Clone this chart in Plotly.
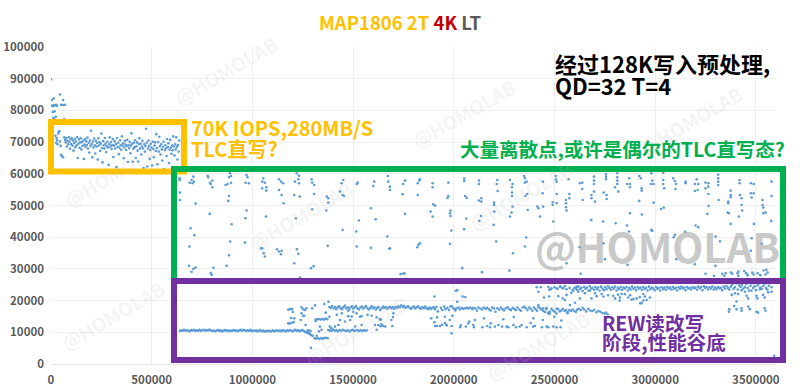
import plotly.graph_objects as go

# All point data: (x in thousands of IOs, IOPS)
start_burst = [(0,89800),(4,83300),(14,83800),(45,85000),(60,83300),(3,81500),(9,81300),(14,81700),(20,81600),(26,81800),(30,81400),
(50,81800),(56,81700),(63,81700),(70,81800),(9,79500),(18,79700),(24,78000),(12,77700),(16,77300),(65,77300)]

slc_band = [(22,72000),(26,69800),(28,71300),(31,70600),(33,69300),(36,72700),(39,73300),(42,73500),(45,70200),(48,68800),(50,66000),(53,65700),
(60,65200),(66,71500),(70,70700),(73,69900),(76,71200),(79,68600),(82,70400),(85,69300),(88,71600),(91,70100),(94,67900),(97,70900),
(100,69400),(103,71300),(106,68900),(109,70500),(112,67300),(115,69700),(118,71000),(121,68400),(124,70200),(127,69000),(130,71500),(133,65000),
(136,69500),(139,70800),(142,68200),(145,69900),(148,71200),(151,67700),(154,70000),(157,68800),(160,70500),(163,64700),(166,69200),(169,71000),
(172,68500),(175,70300),(178,69100),(181,71400),(184,68000),(187,69800),(190,66700),(193,70500),(196,68800),(199,73600),(202,69400),(205,65200),
(208,70200),(211,68300),(214,71100),(217,69000),(220,66400),(223,70400),(226,68600),(229,69700),(232,64500),(235,71200),(238,68900),(241,70000),
(244,67200),(247,69500),(250,72700),(253,68100),(256,63600),(259,70300),(262,69000),(265,68000),(268,71300),(271,69500),(274,66900),(277,68700),
(280,70100),(283,68300),(286,62800),(289,69300),(292,71500),(295,68600),(298,70000),(301,67800),(304,69000),(307,71000),(310,65300),(313,68900),
(316,70300),(319,68000),(322,69400),(325,62100),(328,71300),(331,68500),(334,69800),(337,66200),(340,68200),(343,70600),(346,69000),(349,67600),
(352,71800),(355,68900),(358,69600),(361,64900),(364,68300),(367,70400),(370,69200),(373,67500),(376,68800),(379,70700),(382,63700),(385,69000),
(388,68100),(391,70000),(394,66500),(397,68900),(400,72800),(403,69500),(406,63800),(409,67900),(412,69800),(415,68400),(418,70600),(421,65000),
(424,68700),(427,69900),(430,67300),(433,63900),(436,69400),(439,71200),(442,68000),(445,69500),(448,66100),(451,68600),(454,70400),(457,68000),
(460,61800),(463,69300),(466,67000),(469,68800),(472,74200),(475,69800),(478,62300),(481,68000),(484,70500),(487,68800),(490,64700),(493,67500),
(496,69500),(499,68300),(502,62600),(505,70100),(508,67800),(511,65200),(514,68900),(517,69900),(520,67200),(523,72500),(526,68100),(529,63000),
(532,70000),(535,67000),(538,71700),(541,68700),(544,66100),(547,69300),(550,67700),(553,64200),(556,68500),(559,70100),(562,61500),(565,67500),
(568,69000),(571,68000),(574,65600),(577,71000),(580,68400),(583,69600),(586,63400),(589,67600),(592,70700),(595,68200),(598,66300),(601,68900),
(604,67400),(607,71800),(610,68600),(613,65800),(616,69300),(619,67700),(622,71500),(625,68500),(628,64500),(631,69100),(634,67000),(637,70500)]

scatter_high_a = [(639,58600),(639,58050),(640,54070),(640,51750),(718,50600),(688,57200),(698,58050),(707,59100),(710,57500),(702,57000),(778,59400),
(781,58900),(789,57200),(801,57850),(794,56800),(801,55750),(867,56480),(877,56800),(894,57200),(889,60150),(884,58900),(894,59300),(884,53000),
(880,51450),(788,47350),(971,48400),(966,45980),(897,44100),(693,42800),(712,40630),(687,37050),(890,38630),(963,38300),(884,34300),(685,30960),
(707,30020),(698,29070),(718,30440),(806,30340),(872,30960),(793,28660),(798,28130),(971,59630),(966,57200),(983,57000),(976,58900),(1049,57530),
(1062,57200),(1054,58580),(1049,55430),(1069,55750),(1069,54700),(1132,58270),(1142,57530),(1153,57000),(1132,54900),(1145,53330),(1155,50700),
(1220,60150),(1231,59420),(1228,58270),(1211,57530),(1231,57000),(1208,53330),(1235,52800),(1294,58270),(1297,57220),(1307,56480),(1307,53650),
(1369,52800),(1377,52280),(1377,50900),(1367,48400),(1297,48800),(1216,45980),(1068,46500),(1043,36530),(1049,36530),(1056,34950),(1062,33900),
(1122,36220),(1132,35480),(1142,34640),(1145,35700),(1221,36220),(1228,34750),(1208,31800),(1291,30230),(1304,30860),(1374,37270),(1236,27300),
(1451,58050),(1443,57000),(1435,54380),(1448,53330),(1455,53000),(1523,57220),(1518,56800),(1605,57530),(1600,56170),(1529,45250),(1612,45670),
(1589,49130),(1448,42300),(1516,41780),(1518,37050),(1589,36640)]

scatter_high_b = [(1672,59320),(1675,57530),(1683,55950),(1683,54900),(1749,56800),(1758,57850),(1746,53540),(1821,57000),(1829,57850),(1832,58270),
(1821,53330),(1895,57000),(1895,55750),(1973,57220),(1973,53000),(1969,52400),(1898,50400),(1907,49970),(1758,47350),(1885,48080),(1895,46500),
(1984,48400),(1981,47560),(1984,46700),(2052,58480),(2052,57740),(2125,57850),(2125,56800),(2056,53000),(2064,52400),(2125,51550),(2137,52280),
(2137,51230),(2062,45870),(2127,45140),(2135,46700),(2201,48080),(2200,50900),(2200,50180),(2198,43880),(2216,58050),(2213,56800),(2218,54590),
(2279,58050),(2292,56800),(2289,55750),(2289,54070),(2289,53000),(2292,49660),(2287,47770),(2279,46500),(2350,59320),(2353,58580),(2362,57530),
(2353,57220),(2365,53650),(2355,53000),(2367,48600),(2443,57530),(2441,53860),(2415,49660),(2421,49130),(2444,49660),(2428,46500),(2507,59320),
(2507,58270),(2511,57530),(2570,58270),(2626,57000),(2511,53650),(2491,51020),(2491,50180),(2511,50700),(2557,51750),(2557,50700),(2557,49450),
(2560,48400),(2574,53650),(2574,52280),(2494,44930),(1988,42100),(2051,42500),(1670,40200),(1683,36530),(1680,36320),(1832,38100),(1824,37580),
(1819,36850),(1981,37900),(2211,38630),(2360,39900),(2353,37050),(2294,34950),(2042,30230),(2140,28970),(2276,29500),(2560,31800),(1736,28340),
(1749,28550),(1756,28550)]

scatter_high_c = [(2638,57220),(2638,55220),(2640,51750),(2696,59100),(2696,57850),(2696,56800),(2696,54380),(2684,53330),(2684,52280),(2701,51230),
(2756,59950),(2756,59100),(2756,58270),(2744,54070),(2759,53330),(2759,52070),(2812,60150),(2812,58900),(2812,57850),(2812,56800),(2800,55750),
(2817,54380),(2871,58580),(2861,56800),(2875,56800),(2875,55750),(2921,59320),(2929,58580),(2933,55430),(2933,54700),(2921,51450),(2981,60150),
(2979,56800),(2992,56800),(2986,57850),(3040,60370),(3040,58050),(3040,56800),(3045,55430),(3090,58580),(3098,57740),(3103,56800),(3101,55220),
(3151,57530),(3151,57000),(3206,58270),(3197,56800),(3214,56800),(3197,54590),(3211,54900),(3250,57220),(3264,57000),(3264,55950),(3250,55430),
(3264,53650),(3313,59740),(3313,58580),(3313,57530),(3313,56480),(3315,51750),(3419,58050),(3419,57000),(3375,54700),(3375,52600),(3363,51230),
(3363,50700),(3375,53330),(3421,53330),(3429,52280),(3429,50180),(3432,48400),(3475,57000),(3489,56800),(3475,53860),(3489,53860),(3479,52500),
(3533,51750),(3533,50180),(3537,49340),(3578,57530),(3578,53000),(3265,49870),(3259,47350),(3360,47770),(3366,47560),(3416,46500),(3375,44200),
(3490,44200),(3537,47560),(3548,47770),(3576,45140),(2875,47560),(2934,47140),(2992,50900),(3029,48900),(3043,49340),(2683,45450),(2742,44930),
(2804,44400),(2860,43670),(2870,41780),(2981,42300),(2986,42000),(3098,40730),(3092,40000),(3148,41680),(3201,43670),(3214,43150),(3300,40200),
(3322,38730),(3479,39680),(3530,37900),(3475,35690),(2744,38100),(2625,36850),(2751,33070),(3105,33070),(2863,31280),(3197,31490),(3300,30960),
(2630,28450),(3250,28450),(3292,27820),(3333,28450),(3343,27820),(3350,28660),(3376,28870),(3383,28450),(3409,28660),(3413,27820),(3413,29200),
(3442,29300),(3452,28660),(3459,28030),(3482,28870),(3489,28240),(3509,28660),(3522,28030),(3538,29500),(3552,29700),(3558,28870),(3548,28240)]

low_band = [(640,10400),(647,10600),(654,10500),(661,10800),(668,10450),(675,10650),(682,10500),(689,10350),(696,10700),(703,10550),(710,10800),(717,10400),
(724,10600),(731,10500),(738,10750),(745,10450),(752,10650),(759,10800),(766,10500),(773,10700),(780,10550),(787,10850),(794,10600),(801,10400),
(808,10550),(815,10350),(822,10500),(829,10700),(836,10450),(843,10600),(850,10300),(857,10500),(864,10700),(871,10450),(878,10650),(885,10350),
(892,10550),(899,10400),(906,10700),(913,10500),(920,10650),(927,10350),(934,10550),(941,10750),(948,10500),(955,10800),(962,10600),(969,10400),
(976,10650),(983,10500),(990,10750),(997,10350),(1004,10550),(1011,10400),(1018,10650),(1025,10300),(1032,10500),(1039,10700),(1046,10350),(1053,10550),
(1060,10200),(1067,10450),(1074,10300),(1081,10550),(1088,10250),(1095,10400),(1102,10600),(1109,10300),(1116,10500),(1123,10650),(1130,10400),(1137,10550),
(1144,10350),(1151,10700),(1158,10500),(1165,10300),(1172,10600),(1179,10450),(1186,10700),(1193,10500),(1200,10300),(1207,10600),(1214,10750),(1221,10450),
(1228,10600),(1235,10350),(1242,10550),(1249,10700),(1256,10400),(1262,10100),(1270,10000),(1278,9700),(1285,9500),(1292,9100),(1300,8900),(1288,10400),
(1275,10600)]

low_band_tail = [(1377,10700),(1385,10600),(1393,10400),(1401,10850),(1409,10500),(1417,10650),(1425,10300),(1433,10700),(1441,10500),(1449,10800),(1457,10550),
(1465,10400),(1473,10650),(1481,10300),(1489,10600),(1497,10750),(1505,10450),(1513,10550),(1521,10700),(1529,10400),(1537,10600),(1545,10450),(1553,10600),(1561,10500),(1568,10650)]

mid_transition = [(1178,17100),(1186,17300),(1197,17300),(1201,16400),(1244,17900),(1252,17300),(1261,17000),(1268,17600),(1244,16000),(1252,15200),(1297,17600),(1311,18500),
(1357,18900),(1378,19600),(1364,16200),(1382,14900),(1178,12800),(1186,12800),(1195,13000),(1205,13200),(1192,14500),(1208,14400),(1240,13900),(1264,12300),(1258,15200),
(1314,14000),(1314,13600),(1322,14100),(1331,14200),(1339,14000),(1347,14200),(1356,14000),(1364,14300),(1372,14100),(1308,8100),(1316,8000),(1325,8200),(1333,7900),(1342,8200),
(1350,8000),(1358,8200),(1366,8300),(1374,8100),(1269,9900),(1277,10000),(1286,10500),(1335,11800),(1343,10800),(1331,10300),(1319,8900),(1291,5100),(1385,11800),(1393,11300),
(1410,11800),(1427,12300),(1435,13900),(1460,13400),(1476,15100),(1485,13900),(1493,15000),(1501,16500),(1517,16000),(1534,14900),(1542,15100),(1572,15500),(1592,15200),(1617,14700),
(1634,14200),(1609,12300),(1625,12300),(1642,12300),(1617,10800),(1542,12300),(1510,11800),(1419,15500),(1444,16000),(1476,16800),(1638,14000),(1650,12000),(1700,16000),(1698,14800),
(1690,13900),(1660,11800),(1636,11900)]

mid_band = [(1382,18000),(1389,17700),(1396,18300),(1403,17500),(1410,18000),(1417,17300),(1424,17900),(1431,18200),(1438,17600),(1445,17300),(1452,17900),(1459,18400),(1466,17500),
(1473,17900),(1480,17200),(1487,17800),(1494,18200),(1501,17500),(1508,17900),(1515,18300),(1522,17600),(1529,17200),(1536,17800),(1543,18100),(1550,17500),(1557,17900),(1564,18300),
(1571,17600),(1578,17200),(1585,17700),(1592,18200),(1599,17600),(1606,17900),(1613,17200),(1620,17700),(1627,18000),(1634,17000),(1641,17500),(1648,18100),(1655,17700),(1662,18000),
(1669,17400),(1676,17800),(1683,18000),(1690,17600),(1697,18000),(1704,17400),(1711,18000),(1718,17700),(1725,18200),(1732,17900),(1739,18500),(1746,18000),(1753,18300),(1760,17700),
(1767,18000),(1774,18200),(1781,17700),(1788,17400),(1795,17900),(1802,18100),(1809,17500),(1816,17900),(1823,18200),(1830,17700),(1837,17400),(1844,18000),(1851,17600),(1858,18100),
(1865,17600),(1872,17300),(1879,17800),(1886,17400),(1893,17700),(1900,17900),(1907,17300),(1914,18000),(1921,16600),(1936,17700),(1942,17000),(1952,18100),(1958,17300),(1968,17700),
(1976,17000),(1983,18100),(1990,18200),(1998,17600),(2006,17300),(2015,17600),(2024,17800),(2031,17200),(2040,17700),(2048,17400),(2057,17600),(2065,17700),(2074,17500),(2082,17800),
(2091,17300),(2098,17700),(2108,17500),(2115,16800),(2122,17800),(2131,17500),(2140,17200),(2148,17800),(2157,17400),(2165,17700),(2174,17300),(2183,16900),(2191,17800),(2200,17500),
(2207,16500),(2216,17600),(2225,17100),(2233,17800),(2242,17300),(2250,16900),(2258,17600),(2267,17900),(2276,17300),(2284,17000),(2292,17700),(2300,17400),(2308,17000),(2316,17800),
(2325,17200),(2333,16800),(2342,17800),(2350,18100),(2358,17600),(2366,17000),(2374,17800),(2382,17400),(2390,16800),(2398,17800),(2406,17300),(2414,16800),(2420,18000),(2428,17600),
(2436,17200),(2444,16800),(2452,16400),(2460,17700),(2468,16200),(2476,15800),(2485,17400),(2493,16900),(2502,16500),(2510,15900),(2518,17300),(2526,16600),(2534,16900),(2542,17400),
(2550,16700),(2558,17000),(2566,16400),(2574,17000),(2582,16700),(2590,17200),(2598,16700),(2606,16400),(2612,17100),(2620,17400),(2630,17000),(2640,17700),(2648,17200),(2658,16600),
(2668,17400),(2678,16900),(2688,16700),(2698,17100),(2708,16300),(2718,16700),(2728,16500),(2738,16100),(2748,15900),(2756,16200),(2764,15700)]

mid_below = [(1888,14400),(1904,13200),(1917,14700),(1956,14900),(1993,15200),(1695,12000),(1641,12500),(1633,14000),(1908,12000),(1916,12000),(1931,12000),(1942,12400),(1956,12900),
(1964,12400),(1980,13900),(1965,12200),(1990,12000),(1989,9700),(2031,11600),(2035,12200),(2060,11800),(2072,12800),(2077,13400),(2097,12300),(2100,11600),(2105,13900),(2142,11600),
(2150,14400),(2166,12000),(2180,11600),(2183,12800),(2204,11800),(2221,12300),(2240,11800),(2246,14100),(2262,11800),(2271,11600),(2296,12300),(2298,14800),(2309,11600),(2328,11800),
(2337,12300),(2362,11600),(2382,12900),(2395,14400),(2394,11800),(2403,12000),(2438,11600),(2442,13900),(2461,11800),(2469,11600),(2494,11800),(2511,11600),(2530,11600),(2534,13700),
(2499,14900),(2469,16000),(1904,21300),(2017,23300),(2010,23100),(2044,21300),(2057,21100),(2017,19600),(2008,16900),(2420,22800),(2412,24200),(2432,24200),(2448,21000),(2474,23400),
(2480,23600),(2474,21300),(2511,23900),(2527,24400),(2540,23900),(2553,24600),(2519,21400),(2541,20700),(2560,21800),(2583,22500),(2552,20200),(2593,23100),(2610,24400),(2420,18600),
(2444,17600),(2460,17300),(2478,16500),(2503,16500),(2511,17500),(2564,16000),(2577,18600),(2602,19300)]

upper_below = [(2618,22800),(2626,20700),(2651,22300),(2676,23100),(2684,20700),(2701,22300),(2709,21400),(2734,22100),(2743,21300),(2766,21700),(2792,21500),(2801,20700),(2816,21900),(2825,21000),(2824,20000),
(2834,22100),(2850,22000),(2866,21000),(2876,21700),(2883,20300),(2892,20500),(2908,20700),(2924,21100),(2933,19200),(2941,20000),(2949,21300),(2941,22100),(2958,20200),(2974,21000),(2926,19200),
(3380,21800),(3396,22300),(3412,22100),(3446,22800),(3454,21500),(3462,20700),(3503,21500),(3508,20700),(3536,21800),(3544,21000),(3561,22600),(3578,22800),(3429,23300),(3478,23100),(3520,23600),
(3404,19700),(3392,18300),(3368,17300),(3366,16500),(3404,17300),(3429,17600),(3429,16800),(3462,18100),(3470,17300),(3503,16500),(3511,16200),(3544,17600),(3548,16800),(3591,2600)]

upper_band = [(2605,23900),(2612,23400),(2619,24400),(2626,23600),(2633,24000),(2640,23000),(2647,24300),(2654,23700),(2661,24100),(2668,23200),(2675,24500),(2682,23800),(2689,24000),
(2696,23400),(2703,24300),(2710,23600),(2717,24100),(2724,23200),(2731,24400),(2738,23800),(2745,23300),(2752,24200),(2759,23600),(2766,24500),(2773,24000),(2780,23400),(2787,24200),
(2794,23700),(2801,24400),(2808,23200),(2815,24000),(2822,23600),(2829,24300),(2836,23400),(2843,24100),(2850,23800),(2857,24300),(2864,23200),(2871,24000),(2878,23500),(2885,24400),
(2892,23700),(2899,24100),(2906,23300),(2913,24300),(2920,23800),(2927,24100),(2934,23400),(2941,24300),(2948,23700),(2955,24000),(2962,23200),(2969,24400),(2976,23600),(2983,24100),
(2990,23900),(2997,23300),(3004,24300),(3011,23700),(3018,24000),(3025,23200),(3032,24200),(3039,23600),(3046,24100),(3053,23400),(3060,24300),(3067,23800),(3074,24100),(3081,23500),
(3088,24300),(3095,23700),(3102,24000),(3109,23200),(3116,24200),(3123,23700),(3130,24400),(3137,23800),(3144,24100),(3151,23300),(3158,24300),(3165,23800),(3172,24000),(3179,23500),
(3186,24300),(3193,23900),(3200,24100),(3207,23400),(3214,24400),(3221,23800),(3228,24300),(3235,23300),(3242,24500),(3249,24000),(3256,24300),(3263,23500),(3270,24200),(3277,23800),
(3284,24400),(3291,23500),(3298,24100),(3305,23600),(3312,24300),(3319,23900),(3326,24000),(3333,23300),(3340,24400),(3347,23800),(3354,24600),(3361,24000),(3368,23500),(3375,24400),
(3382,24900),(3389,23700),(3396,24200),(3403,25400),(3410,23500),(3417,24800),(3424,24300),(3431,25000),(3438,23800),(3445,24300),(3452,25200),(3459,24000),(3466,23200),(3473,24700),
(3480,25500),(3487,24000),(3494,24500),(3501,23300),(3508,24800),(3515,25400),(3522,24100),(3529,23700),(3536,24600),(3543,25200),(3550,24000),(3557,23500),(3564,24700),(3571,25500),(3578,24200),
(2600,24000),(2560,23600),(2575,24000),(2590,23400),(2545,24000),(2530,24400),(2515,23700),(2500,24200),(2485,23900),(2470,24300)]

ALL_SERIES = [start_burst, slc_band, scatter_high_a, scatter_high_b, scatter_high_c, low_band, low_band_tail,
              mid_transition, mid_band, mid_below, upper_below, upper_band]

TITLE_LINE = ("<span style='color:#FFC000'>MAP1806 2T </span><span style='color:#C00000'>4K </span>"
              "<span style='color:#595959'>LT</span>")
x_ticks = [0, 500000, 1000000, 1500000, 2000000, 2500000, 3000000, 3500000]
y_ticks = [0, 10000, 20000, 30000, 40000, 50000, 60000, 70000, 80000, 90000, 100000]

L, R, T, B = 51, 776, 47, 364
W, H = 800, 390
def fx(p): return (p - L) / (R - L)
def fy(p): return (B - p) / (B - T)

fig = go.Figure()
for s in ALL_SERIES:
    fig.add_trace(go.Scatter(x=[p[0] * 1000 for p in s], y=[p[1] for p in s], mode="markers",
                             marker=dict(size=2.6, color="#5B9BD5", line=dict(width=0)),
                             showlegend=False, hoverinfo="skip"))

def box(x0, y0, x1, y1, color):
    return dict(type="rect", xref="paper", yref="paper", x0=fx(x0), x1=fx(x1), y0=fy(y1), y1=fy(y0),
                line=dict(color=color, width=6), fillcolor="rgba(0,0,0,0)", layer="above")

shapes = [box(51, 122, 184, 171.5, "#FFC000"),
          box(174, 169, 783, 281, "#00B050"),
          box(174, 281, 783, 360, "#7030A0")]

CJK = "Noto Sans CJK SC"
def note(px, py, text, size, color, anchor="left", angle=0, weight=700):
    return dict(xref="paper", yref="paper", x=fx(px), y=fy(py), text=text, showarrow=False,
                xanchor=anchor, yanchor="middle", textangle=angle, align="left", borderpad=0,
                font=dict(family=CJK, size=size, color=color, weight=weight))

WM = "rgba(190,190,190,0.17)"
annotations = [note(x, y, "@HOMOLAB", 19, WM, "center", -30) for x, y in
               [(225, 70), (463, 113), (112, 315), (115, 172), (300, 215), (537, 345), (355, 330), (520, 195), (690, 120)]]
annotations += [
    note(657, 245, "@HOMOLAB", 40.5, "rgba(165,165,165,0.62)", "center"),
    note(400, 22, TITLE_LINE, 18.5, "#595959", "center"),
    note(554, 63, "经过128K写入预处理,", 22, "#000000"),
    note(554, 85, "QD=32 T=4", 22, "#000000"),
    note(190, 128, "70K IOPS,280MB/S", 20, "#FFC000"),
    note(190, 148, "TLC直写?", 20, "#FFC000"),
    note(459, 148, "大量离散点,或许是偶尔的TLC直写态?", 19.5, "#00B050"),
    note(601, 322, "REW读改写", 19.6, "#7030A0"),
    note(601, 341, "阶段,性能谷底", 19.6, "#7030A0"),
]

tick_font = dict(family=CJK, size=11.5, color="#595959", weight=700)
fig.update_layout(
    width=W, height=H, autosize=False, paper_bgcolor="white", plot_bgcolor="white",
    margin=dict(l=L, r=W - R, t=T, b=H - B, autoexpand=False), shapes=shapes, annotations=annotations,
    xaxis=dict(range=[0, 3600000], tickvals=x_ticks, ticktext=[str(v) for v in x_ticks], showgrid=True,
               gridcolor="#EFEFEF", gridwidth=1, zeroline=False, showline=True, linecolor="#E6E6E6",
               ticks="", tickfont=tick_font, ticklabelstandoff=5),
    yaxis=dict(range=[0, 100000], tickvals=y_ticks, ticktext=[str(v) for v in y_ticks], showgrid=True,
               gridcolor="#EFEFEF", gridwidth=1, zeroline=False, showline=False,
               ticks="", tickfont=tick_font, ticklabelstandoff=6),
)
fig.write_html("out.html", config={"displayModeBar": False},
               post_script="document.body.style.margin='0';document.documentElement.style.overflow='hidden';")
